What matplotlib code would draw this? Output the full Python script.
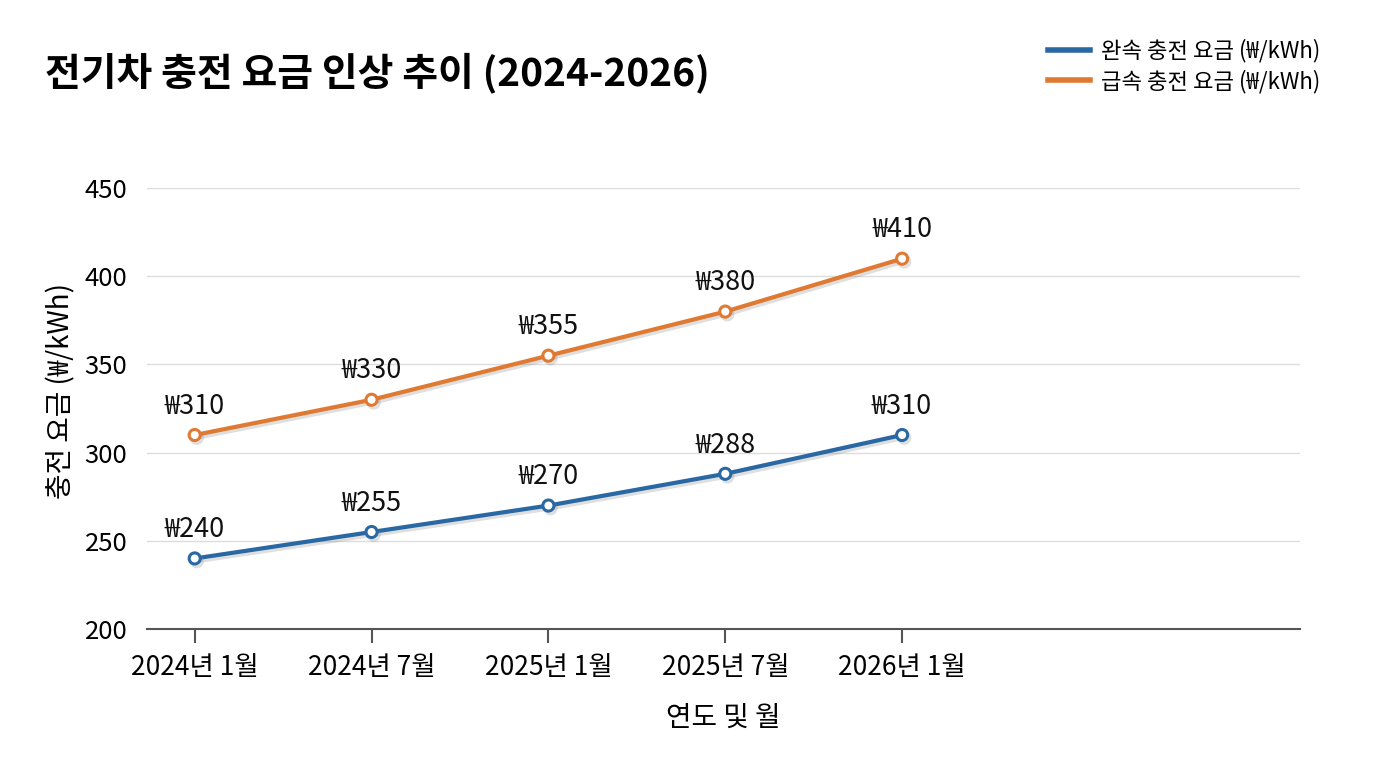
import matplotlib
matplotlib.use('Agg')
import matplotlib.pyplot as plt
import matplotlib.patheffects as pe

plt.rcParams['font.family'] = ['Noto Sans CJK KR', 'DejaVu Sans']

periods = ['2024년 1월', '2024년 7월', '2025년 1월', '2025년 7월', '2026년 1월']
slow_fee = [240, 255, 270, 288, 310]
fast_fee = [310, 330, 355, 380, 410]
yticks = [200, 250, 300, 350, 400, 450]

BLUE = '#2a68a3'
ORANGE = '#e07a32'

fig = plt.figure(figsize=(13.76, 7.68), dpi=100)
ax = fig.add_axes([0.1068, 0.181, 0.838, 0.574])

x = list(range(len(periods)))
shadow = [pe.SimpleLineShadow(offset=(1.5, -2), shadow_color='gray', alpha=0.25), pe.Normal()]
for vals, color, name in [(slow_fee, BLUE, '완속 충전 요금 (₩/kWh)'),
                          (fast_fee, ORANGE, '급속 충전 요금 (₩/kWh)')]:
    ax.plot(x, vals, color=color, lw=3, marker='o', ms=8, mfc='white', mec=color, mew=2.2,
            label=name, path_effects=shadow, zorder=3)
    for xi, v in zip(x, vals):
        ax.annotate(f'₩{v}', (xi, v), xytext=(0, 11), textcoords='offset points',
                    ha='center', va='bottom', fontsize=19.5, color='#111111')

ax.set_xlim(-0.27, 6.25)
ax.set_ylim(200, 450)
ax.set_yticks(yticks)
ax.set_xticks(x)
ax.set_xticklabels(periods)
ax.grid(axis='y', color='#dddddd', lw=1)
ax.set_axisbelow(True)
for s in ['top', 'right', 'left']:
    ax.spines[s].set_visible(False)
ax.spines['bottom'].set_color('#555555')
ax.spines['bottom'].set_linewidth(1.5)
ax.tick_params(axis='y', length=0, labelsize=18.5, pad=14)
ax.tick_params(axis='x', length=10, width=1.5, color='#555555', labelsize=19, pad=8)
ax.set_xlabel('연도 및 월', fontsize=20, labelpad=16)
ax.set_ylabel('충전 요금 (₩/kWh)', fontsize=20, labelpad=6)
ax.yaxis.label.set_y(0.54)

fig.text(0.033, 0.905, '전기차 충전 요금 인상 추이 (2024-2026)', fontsize=28, fontweight='bold',
         va='center', ha='left')
fig.legend(loc='upper right', bbox_to_anchor=(0.974, 0.975), frameon=False, fontsize=16,
           handlelength=1.9, handletextpad=0.5, labelspacing=0.3)
leg = fig.legends[0]
for h in leg.get_lines():
    h.set_marker('')
    h.set_linewidth(4)
    h.set_path_effects([])

fig.savefig('out.png', dpi=100)
